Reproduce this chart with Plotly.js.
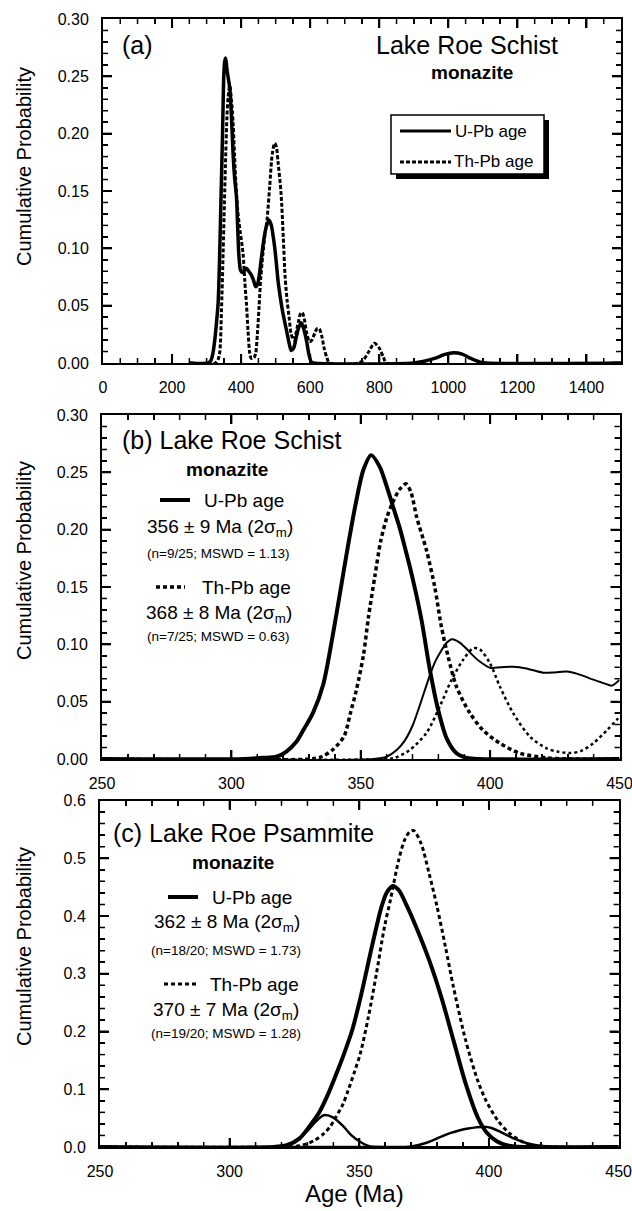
<!DOCTYPE html>
<html>
<head>
<meta charset="utf-8">
<script src="https://cdn.plot.ly/plotly-3.0.1.min.js"></script>
<style>html,body{margin:0;padding:0;background:#fff;}#chart{width:632px;height:1211px;}</style>
</head>
<body>
<div id="chart"></div>
<script>
// ---------- DATA ----------
// Panel (a): full age spectra, 0-1500 Ma
const aAgeUPb = [250, 305, 312, 318, 323.7, 328, 333.3, 337, 340.2, 343, 345.9, 348, 349.7, 352, 354.6, 357, 359.3, 363, 367, 372, 376.6, 381, 386.4, 390, 393, 396, 398, 403, 408, 415.3, 422, 429.8, 436, 442.2, 447, 451.9, 456, 461.6, 467, 473, 480.8, 487.6, 492, 497.1, 502, 506.8, 511.6, 520, 531, 540, 545, 552, 560, 567, 574, 581, 589, 596, 603, 610, 900, 930, 960, 990, 1015, 1040, 1065, 1090, 1110, 1500];
const aProbUPb = [0, 0, 0.002, 0.008, 0.02, 0.033, 0.052, 0.085, 0.125, 0.16, 0.197, 0.228, 0.25, 0.262, 0.266, 0.262, 0.255, 0.248, 0.24, 0.215, 0.183, 0.162, 0.145, 0.118, 0.096, 0.085, 0.081, 0.079, 0.080, 0.0826, 0.080, 0.0767, 0.072, 0.0666, 0.068, 0.0753, 0.085, 0.0985, 0.11, 0.119, 0.1247, 0.120, 0.112, 0.101, 0.087, 0.072, 0.061, 0.045, 0.029, 0.016, 0.011, 0.013, 0.023, 0.031, 0.035, 0.03, 0.02, 0.008, 0.001, 0, 0, 0.0015, 0.004, 0.0075, 0.009, 0.0078, 0.004, 0.001, 0, 0];
const aAgeThPb = [250, 325, 333, 338, 343, 347.8, 351.6, 355.5, 359, 362.3, 367, 372, 376.6, 381, 386.4, 391.1, 398, 405.5, 410.4, 415.3, 420, 424.9, 429, 433, 438, 442.2, 447, 451.9, 457, 463.3, 469, 474.9, 482.7, 490.4, 497.1, 502, 507, 515.6, 522, 527.2, 533, 538.9, 545, 552, 558, 566, 572, 577, 583, 590, 598, 605, 613, 620, 626, 633, 641, 648, 656, 740, 755, 770, 786, 800, 812, 822, 1500];
const aProbThPb = [0, 0, 0.003, 0.009, 0.045, 0.0957, 0.14, 0.183, 0.215, 0.232, 0.242, 0.229, 0.21, 0.18, 0.148, 0.13, 0.113, 0.0957, 0.072, 0.052, 0.028, 0.0085, 0.004, 0.004, 0.005, 0.0085, 0.025, 0.049, 0.075, 0.0957, 0.112, 0.1247, 0.154, 0.183, 0.1916, 0.1886, 0.175, 0.148, 0.11, 0.076, 0.055, 0.040, 0.025, 0.02, 0.025, 0.036, 0.043, 0.044, 0.038, 0.026, 0.0186, 0.02, 0.026, 0.030, 0.030, 0.024, 0.012, 0.005, 0, 0, 0.003, 0.01, 0.0172, 0.013, 0.005, 0, 0];

// Panel (b): Lake Roe Schist, 250-450 Ma
const bAgeUPbSel = [250, 305, 312, 317.4, 321, 325.1, 328, 331.5, 335.5, 339.5, 342, 345, 348, 351, 354, 357.3, 360, 362.5, 365, 367, 370.2, 373.5, 376.7, 379.9, 383.2, 387, 391, 396, 450];
const bProbUPbSel = [0, 0, 0.001, 0.002, 0.006, 0.015, 0.026, 0.040, 0.065, 0.112, 0.145, 0.185, 0.222, 0.252, 0.265, 0.255, 0.238, 0.22, 0.202, 0.185, 0.156, 0.121, 0.078, 0.043, 0.018, 0.005, 0.001, 0, 0];
const bAgeUPbAll = [250, 355, 360, 364, 367, 370, 373, 376.7, 379, 381, 383, 385.3, 388, 390.5, 393, 396, 400, 404, 408.9, 414, 420.5, 425, 429.6, 434, 439.9, 444.4, 447, 450];
const bProbUPbAll = [0, 0, 0.002, 0.008, 0.016, 0.029, 0.048, 0.073, 0.086, 0.094, 0.101, 0.1045, 0.102, 0.097, 0.091, 0.085, 0.0796, 0.080, 0.0805, 0.079, 0.0753, 0.0755, 0.0762, 0.074, 0.0692, 0.0657, 0.064, 0.069];
const bAgeThPbSel = [250, 330, 335, 339.6, 343.6, 346, 348.3, 351, 353, 355.5, 357.7, 360, 362, 365, 367.5, 369.5, 371.6, 375.4, 378.6, 381.2, 383.8, 387, 392.2, 397.3, 403.8, 411.5, 421.8, 430, 450];
const bProbThPbSel = [0, 0, 0.002, 0.009, 0.02, 0.04, 0.06, 0.09, 0.124, 0.16, 0.19, 0.21, 0.222, 0.235, 0.24, 0.232, 0.211, 0.182, 0.150, 0.115, 0.089, 0.063, 0.040, 0.025, 0.0137, 0.005, 0.001, 0, 0];
const bAgeThPbAll = [250, 360, 363.1, 368.9, 375.4, 380.5, 385.1, 389.5, 393.4, 396, 399.9, 403.8, 408.9, 415.4, 421.8, 426, 431, 435, 439.9, 445.1, 448.9, 450];
const bProbThPbAll = [0, 0, 0.001, 0.0078, 0.0227, 0.0456, 0.069, 0.0863, 0.0965, 0.0957, 0.0837, 0.063, 0.040, 0.0195, 0.0093, 0.0065, 0.0052, 0.0068, 0.0137, 0.025, 0.034, 0.037];

// Panel (c): Lake Roe Psammite, 250-450 Ma
const cAgeUPbSel = [250, 317, 322, 327, 332.3, 334.8, 338, 341, 344, 347.3, 350, 352, 354.5, 356.6, 358.5, 360.5, 362.9, 365.2, 368.3, 372.2, 376.9, 381.6, 386.3, 391, 395.6, 399.1, 403, 406.8, 410, 415, 450];
const cProbUPbSel = [0, 0, 0.003, 0.015, 0.045, 0.062, 0.092, 0.125, 0.16, 0.203, 0.25, 0.289, 0.34, 0.381, 0.415, 0.44, 0.452, 0.445, 0.418, 0.378, 0.324, 0.26, 0.185, 0.11, 0.052, 0.025, 0.01, 0.003, 0.001, 0, 0];
const cAgeUPbYoung = [250, 318, 322, 326, 330, 333, 336.3, 340, 343.8, 347, 350.3, 354, 357, 450];
const cProbUPbYoung = [0, 0, 0.003, 0.012, 0.028, 0.043, 0.055, 0.051, 0.036, 0.02, 0.009, 0.001, 0, 0];
const cAgeUPbOld = [250, 365, 370, 375, 381.1, 385, 388.8, 392, 395, 398, 401, 405, 410, 415, 420, 425, 450];
const cProbUPbOld = [0, 0, 0.001, 0.006, 0.017, 0.024, 0.029, 0.032, 0.034, 0.035, 0.033, 0.025, 0.014, 0.006, 0.002, 0, 0];
const cAgeThPb = [250, 322, 325.4, 330.1, 332.9, 336.3, 338.7, 341, 343.8, 345.7, 348, 350.4, 353.5, 356.6, 359.7, 362, 365.2, 367.5, 369.5, 371, 373.8, 376.9, 380, 383.2, 386.3, 391, 395.6, 398.8, 403.4, 408.1, 414.4, 420.6, 425, 450];
const cProbThPb = [0, 0, 0.001, 0.006, 0.012, 0.023, 0.035, 0.052, 0.075, 0.098, 0.128, 0.162, 0.225, 0.30, 0.381, 0.428, 0.497, 0.532, 0.546, 0.548, 0.526, 0.474, 0.416, 0.347, 0.277, 0.185, 0.116, 0.081, 0.046, 0.023, 0.006, 0.001, 0, 0];

// Texts
const yTitle = 'Cumulative Probability';
const xTitle = 'Age (Ma)';
const legendNames = ['U-Pb age', 'Th-Pb age'];

// ---------- LAYOUT HELPERS ----------
const W = 632, H = 1211, ML = 100, MR = 10, MT = 19, MB = 64;
const PW = W - ML - MR, PH = H - MT - MB;
const px = x => (x - ML) / PW;
const py = y => (H - MB - y) / PH;
const FONT = 'Liberation Sans, Arial, Helvetica, sans-serif';

function line(x, y, xa, ya, width, dash) {
  return {x: x, y: y, xaxis: xa, yaxis: ya, type: 'scatter', mode: 'lines',
    line: {color: '#000', width: width, dash: dash || 'solid', shape: 'spline', smoothing: 0.8},
    hoverinfo: 'skip', showlegend: false};
}

const traces = [
  line(aAgeUPb, aProbUPb, 'x', 'y', 3.5),
  line(aAgeThPb, aProbThPb, 'x', 'y', 3, '4px,2px'),
  line(bAgeUPbSel, bProbUPbSel, 'x2', 'y2', 4),
  line(bAgeUPbAll, bProbUPbAll, 'x2', 'y2', 2),
  line(bAgeThPbSel, bProbThPbSel, 'x2', 'y2', 3.5, '4px,3px'),
  line(bAgeThPbAll, bProbThPbAll, 'x2', 'y2', 2.5, '3px,3px'),
  line(cAgeUPbSel, cProbUPbSel, 'x3', 'y3', 4),
  line(cAgeUPbYoung, cProbUPbYoung, 'x3', 'y3', 2.5),
  line(cAgeUPbOld, cProbUPbOld, 'x3', 'y3', 2.5),
  line(cAgeThPb, cProbThPb, 'x3', 'y3', 3, '4px,3px')
];

function axis(domain, range, dtick, minor, anchor, fmt) {
  return {domain: domain, range: range, anchor: anchor, dtick: dtick, tick0: 0,
    tickformat: fmt || '', ticks: 'inside', ticklen: 9, tickwidth: 2, tickcolor: '#000',
    minor: {dtick: minor, ticks: 'inside', ticklen: 5, tickwidth: 1.5, tickcolor: '#000', showgrid: false},
    showline: true, linewidth: 2, linecolor: '#000', mirror: 'ticks',
    showgrid: false, zeroline: false, fixedrange: true,
    ticklabelstandoff: 9, ticklabeloverflow: 'allow',
    tickfont: {family: FONT, size: 16, color: '#000'}};
}

const axesSpec = [
  // [x axis, y axis, x domain px, y domain px (bottom, top), x range, x major, x minor, y range, y major, y minor, y format]
  ['x',  'y',  [103, 621],   [363, 19],     [0, 1500],  200, 50, [0, 0.30], 0.05, 0.01, '.2f'],
  ['x2', 'y2', [102, 619.5], [759, 415],    [250, 450], 50,  10, [0, 0.30], 0.05, 0.01, '.2f'],
  ['x3', 'y3', [100, 618.6], [1147, 800.5], [250, 450], 50,  10, [0, 0.6],  0.1,  0.02, '.1f']
];

const layout = {
  width: W, height: H,
  margin: {l: ML, r: MR, t: MT, b: MB},
  showlegend: false,
  annotations: [],
  shapes: []
};

function tickVals(r, step) {
  const out = [];
  const n = Math.round((r[1] - r[0]) / step);
  for (let i = 1; i < n; i++) out.push(+(r[0] + i * step).toFixed(6));
  return out;
}
// inward tick marks on all four sides, drawn as line traces in axis units
axesSpec.forEach(s => {
  const [xn, yn, xd, yd, xr, xM, xm, yr, yM, ym, fmt] = s;
  const xk = xn === 'x' ? 'xaxis' : 'xaxis' + xn.slice(1);
  const yk = yn === 'y' ? 'yaxis' : 'yaxis' + yn.slice(1);
  layout[xk] = axis([px(xd[0]), px(xd[1])], xr, xM, xm, yn);
  layout[yk] = axis([py(yd[0]), py(yd[1])], yr, yM, ym, xn, fmt);
  const xPerPx = (xr[1] - xr[0]) / (xd[1] - xd[0]);
  const yPerPx = (yr[1] - yr[0]) / (yd[0] - yd[1]);
  const sets = {major: {x: [], y: []}, minor: {x: []  , y: []}};
  tickVals(xr, xm).forEach(v => {
    const t = Math.abs(v / xM - Math.round(v / xM)) < 1e-6 ? 'major' : 'minor';
    const len = (t === 'major' ? 9 : 5) * yPerPx;
    sets[t].x.push(v, v, null, v, v, null);
    sets[t].y.push(yr[0], yr[0] + len, null, yr[1], yr[1] - len, null);
  });
  tickVals(yr, ym).forEach(v => {
    const t = Math.abs(v / yM - Math.round(v / yM)) < 1e-6 ? 'major' : 'minor';
    const len = (t === 'major' ? 9 : 5) * xPerPx;
    sets[t].x.push(xr[0], xr[0] + len, null, xr[1], xr[1] - len, null);
    sets[t].y.push(v, v, null, v, v, null);
  });
  ['major', 'minor'].forEach(t => {
    traces.push({x: sets[t].x, y: sets[t].y, xaxis: xn, yaxis: yn, type: 'scatter', mode: 'lines',
      line: {color: '#000', width: t === 'major' ? 2 : 1.5}, connectgaps: false,
      hoverinfo: 'skip', showlegend: false, cliponaxis: false});
  });
});

function note(text, x, y, size, xanchor, extra) {
  const a = {text: text, xref: 'paper', yref: 'paper', x: px(x), y: py(y),
    xanchor: xanchor || 'center', yanchor: 'middle', showarrow: false,
    font: {family: FONT, size: size, color: '#000'}};
  return Object.assign(a, extra || {});
}
const A = layout.annotations;
// axis titles
A.push(note(yTitle, 24, 167, 20, 'center', {textangle: -90}));
A.push(note(yTitle, 24, 561, 20, 'center', {textangle: -90}));
A.push(note(yTitle, 24, 947, 20, 'center', {textangle: -90}));
A.push(note(xTitle, 354, 1193, 24));
// panel a
A.push(note('(a)', 120, 45, 25, 'left'));
A.push(note('Lake Roe Schist', 560, 45, 25, 'right'));
A.push(note('<b>monazite</b>', 472, 72, 19));
A.push(note(legendNames[0], 453, 131, 17, 'left'));
A.push(note(legendNames[1], 452, 162, 17, 'left'));
// panel b
A.push(note('(b) Lake Roe Schist', 120, 440, 25, 'left'));
A.push(note('<b>monazite</b>', 227, 469, 19));
A.push(note(legendNames[0], 202, 500, 19, 'left'));
A.push(note('356 ± 9 Ma (2σ<sub>m</sub>)', 220, 528, 19));
A.push(note('(n=9/25; MSWD = 1.13)', 218, 553, 13.5));
A.push(note(legendNames[1], 200, 587, 19, 'left'));
A.push(note('368 ± 8 Ma (2σ<sub>m</sub>)', 219, 614, 19));
A.push(note('(n=7/25; MSWD = 0.63)', 218, 636, 13.5));
// panel c
A.push(note('(c) Lake Roe Psammite', 111, 833, 25, 'left'));
A.push(note('<b>monazite</b>', 233, 862, 19));
A.push(note(legendNames[0], 210, 897, 19, 'left'));
A.push(note('362 ± 8 Ma (2σ<sub>m</sub>)', 227, 923, 19));
A.push(note('(n=18/20; MSWD = 1.73)', 226, 950, 13.5));
A.push(note(legendNames[1], 208, 984, 19, 'left'));
A.push(note('370 ± 7 Ma (2σ<sub>m</sub>)', 226, 1011, 19));
A.push(note('(n=19/20; MSWD = 1.28)', 226, 1033, 13.5));

// legend box of panel a with drop shadow, and legend line samples
const S = layout.shapes;
S.push({type: 'rect', xref: 'paper', yref: 'paper', x0: px(396), x1: px(549), y0: py(120), y1: py(179), fillcolor: '#000', line: {width: 0}});
S.push({type: 'rect', xref: 'paper', yref: 'paper', x0: px(391), x1: px(544), y0: py(115), y1: py(174), fillcolor: '#fff', line: {color: '#000', width: 1.5}});
function seg(x0, x1, y, w, dash) {
  return {type: 'line', xref: 'paper', yref: 'paper', x0: px(x0), x1: px(x1), y0: py(y), y1: py(y),
    line: {color: '#000', width: w, dash: dash || 'solid'}};
}
S.push(seg(400, 451, 131, 3));
S.push(seg(400, 451, 162, 3, '4px,2px'));
S.push(seg(160, 190, 500, 4));
S.push(seg(156, 185, 587, 3.5, '4px,3px'));
S.push(seg(168, 198, 897, 4));
S.push(seg(164, 196, 984, 3, '4px,3px'));

Plotly.newPlot('chart', traces, layout, {staticPlot: true, displayModeBar: false});
</script>
</body>
</html>
